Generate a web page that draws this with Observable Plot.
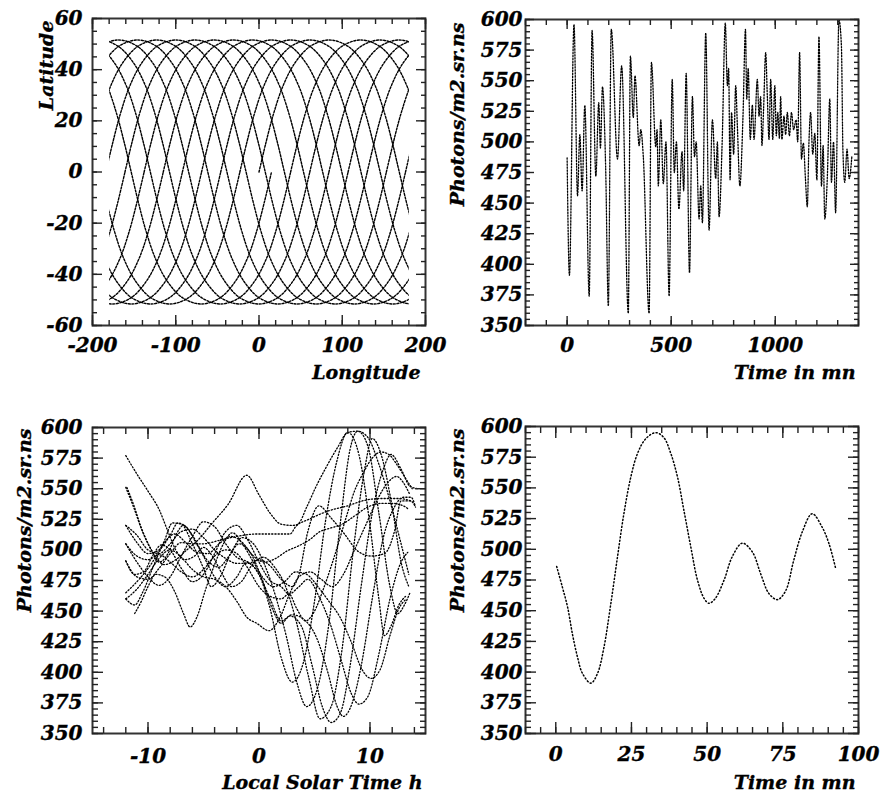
<!DOCTYPE html>
<html><head><meta charset="utf-8">
<script src="https://cdn.jsdelivr.net/npm/d3@7"></script>
<script src="https://cdn.jsdelivr.net/npm/@observablehq/plot@0.6"></script>
<style>
body{margin:0;background:#fff;}
#root{position:relative;width:880px;height:796px;overflow:hidden;background:#fff;}
#root svg{position:absolute;overflow:visible;}
#root svg text{stroke:#000;stroke-width:0.35px;}
</style></head><body><div id="root"></div>
<script>
// ---------------- Panel 1: ground track ----------------
// shape of one orbit's ground track relative to its ascending-node longitude
const trackShapeDLon = [0,8.5,17.8,28.9,43.3,61.9,84.3,106.6,125.2,139.6,150.7,160,168.5,177,186.3,197.4,211.8,230.4,252.8,275.1,293.7,308.1,319.2,328.5,337];
const trackShapeLat  = [0,11.7,23.1,33.7,42.7,49.2,51.6,49.2,42.7,33.7,23.1,11.7,0,-11.7,-23.1,-33.7,-42.7,-49.2,-51.6,-49.2,-42.7,-33.7,-23.1,-11.7,0];
const orbitNodeLon = [0,-23,-46,-69,-92,-115,-138,-161,176,153,130,107,84,61,38];
const p1XLabels = [-200,-100,0,100,200];
const p1YLabels = [-60,-40,-20,0,20,40,60];

// ---------------- Panel 2: long time series (turning points) ----------------
const seriesTime = [0,11,33,50,61,72,85, 106,120,138,152,160,170,185, 198,212,242,262,
  294,304,318,326,346,354,366, 394,405,426,432,438,450,462,475, 490,505,515,525,537,552,
  560,572,588,602,612,620,634,642,650, 666,682,698,714,722,730,745,
  760,770,776,783,790,800,810,818,830,845,857,863,
  870,880,890,898,914,922,930,936,944,954,962,970,978,988,
  998,1005,1012,1020,1026,1032,1042,1050,1058,1068,1078,1088,1100,1108,
  1117,1126,1135,1145,1154,1162,1170,1180,1190,1200,
  1210,1222,1230,1238,1250,1262,1270,1280,1290,1306,1318,1325,1334,1345,1355,1368];
const seriesFlux = [487,391,596,456,506,460,530, 374,591,472,532,495,545,480, 366,592,486,562,
  360,570,520,554,497,510,488, 360,565,496,510,464,518,466,500, 374,551,475,500,445,492,
  460,556,393,537,488,500,437,464,434, 589,428,518,470,500,439,500,
  597,546,560,469,524,490,546,513,464,521,592,535,
  560,502,530,502,551,521,537,497,527,573,537,502,551,502,
  546,505,524,503,537,502,521,506,524,505,524,510,518,500,
  573,486,499,470,447,500,524,490,507,469,
  586,464,497,437,470,535,467,500,442,600,578,494,467,494,470,488];
const p2XLabels = [0,500,1000];
const fluxLabels = [350,375,400,425,450,475,500,525,550,575,600];

// ---------------- Panel 3: flux vs local solar time (one curve per pass) ----------------
const lstCurveA = [[-12,505],[-11,490],[-10,478],[-9,471],[-8,478],[-7,495],[-6,511],[-5,523],[-4,519],[-3,505],[-2,494],[-1,490],[0,480],[1,452],[2,412],[3,392],[4,408],[5,458],[6,524],[7,572],[8,596],[9,578],[10,520],[10.8,460],[11.3,430],[11.9,438],[12.6,455],[13.2,462]];
const lstCurveB = [[-12,460],[-11.2,455],[-10.5,465],[-9.5,487],[-8.5,508],[-7.8,522],[-7,521],[-6,505],[-5,485],[-4.3,470],[-3.5,478],[-2.5,498],[-1.5,510],[-0.5,505],[0.5,488],[1.5,462],[2.5,428],[3.4,392],[4.3,372],[5.3,388],[6.3,440],[7.3,520],[8.2,582],[8.9,597],[9.8,585],[10.8,530],[11.8,470],[12.5,448],[13.1,455],[13.6,465]];
const lstCurveC = [[-12,577],[-11,562],[-10,548],[-9,533],[-8.2,515],[-7.5,500],[-6.7,492],[-5.8,495],[-5,502],[-4.2,495],[-3.3,480],[-2.5,470],[-1.6,474],[-0.6,488],[0.4,494],[1.4,486],[2.4,470],[3.4,440],[4.5,395],[5.5,362],[6.5,372],[7.5,420],[8.5,500],[9.5,565],[10.2,591],[11,578],[12,535],[12.8,490],[13.5,470]];
const lstCurveD = [[-12,520],[-11,506],[-10,497],[-9,500],[-8,512],[-7.3,522],[-6.5,518],[-5.5,503],[-4.5,490],[-3.6,486],[-2.7,495],[-1.8,505],[-0.8,498],[0.2,478],[1.2,452],[2,440],[2.8,446],[3.8,438],[4.8,405],[5.7,372],[6.5,359],[7.3,366],[8.2,405],[9.2,470],[10.2,530],[11.2,566],[11.9,578],[12.8,566],[13.6,552],[14.3,550]];
const lstCurveE = [[-11.9,551],[-11.3,537],[-10.6,518],[-9.7,500],[-9,490],[-8.2,497],[-7.5,512],[-6.8,520],[-6,512],[-5,495],[-4,478],[-3,470],[-2,478],[-1.1,490],[0,480],[1,460],[2,442],[3,447],[4.2,442],[5.2,428],[6.2,400],[7,373],[7.6,364],[8.4,375],[9.2,405],[10.2,460],[11.2,510],[12.2,535],[13,543],[13.7,543],[14.1,535]];
const lstCurveF = [[-12,491],[-11.2,480],[-10.4,482],[-9.6,495],[-8.8,504],[-8,500],[-7,485],[-6,474],[-5,480],[-4,497],[-3,515],[-2,520],[-1,508],[0,490],[1,475],[2,470],[2.7,464],[3.6,470],[4.4,476],[5.4,462],[6.4,440],[7.4,410],[8.3,383],[9,374],[9.8,380],[10.8,415],[11.8,460],[12.8,490],[13.4,498]];
const lstCurveG = [[-11.2,448],[-10.6,458],[-10,470],[-9.3,480],[-8.5,478],[-7.6,466],[-6.8,448],[-6.2,437],[-5.6,445],[-4.8,468],[-4,488],[-3.2,505],[-2.4,514],[-1.5,505],[-0.5,490],[0.3,478],[1.3,470],[2.3,474],[3.3,482],[4.3,480],[5.3,470],[6.3,458],[7.3,445],[8.3,425],[9.3,402],[10.1,395],[10.9,402],[11.8,430],[12.6,452],[13.3,460]];
const lstCurveH = [[-12,551],[-11.3,535],[-10.5,515],[-9.5,497],[-8.5,488],[-7.5,492],[-6.5,500],[-5.5,508],[-4.3,521],[-2.8,537],[-1.1,561],[0,545],[1,530],[2,521],[3,520],[3.5,521],[4.3,535],[5.1,551],[5.9,565],[7.1,584],[8,596],[8.9,597],[9.8,592],[10.8,570],[11.8,540],[12.8,505],[13.5,480]];
const lstCurveI = [[-12,491],[-11,478],[-10,476],[-9,485],[-8,497],[-7,506],[-6,505],[-5,505],[-3.5,508],[-2,511],[-0.2,513],[1,513],[2,513],[2.8,513],[3.3,519],[4.5,525],[6.3,532],[8,536],[9.3,540],[11,542],[12.5,542],[13.7,540],[14.1,535]];
const lstCurveJ = [[-12,465],[-10.8,476],[-9.6,490],[-8.6,505],[-7.6,513],[-6.6,506],[-5.6,498],[-4.6,497],[-3.6,505],[-2.5,511],[-1.5,506],[-0.5,495],[0.5,490],[1.5,493],[2.5,499],[3.5,503],[4.5,508],[5.5,515],[6.5,518],[7.5,521],[8.5,527],[9.8,535],[11,538],[12,538],[13,536],[13.5,533]];
const lstCurveK = [[-12,520],[-11,512],[-10,500],[-9,497],[-8,505],[-7,515],[-6,517],[-5,510],[-4,500],[-3,493],[-2,489],[-1,489],[0,492],[1,487],[2,476],[3,470],[3.6,480],[4.4,515],[5.4,536],[6.5,526],[7.7,513],[8.9,499],[10.1,495],[11.3,497],[12.2,515],[12.8,540],[13.7,540]];
const lstCurveL = [[-12,460],[-11,468],[-10,480],[-9,493],[-8,500],[-7,494],[-6,484],[-5,478],[-4,476],[-3,470],[-2,458],[-1.1,445],[-0.2,440],[0.9,434],[1.9,445],[2.8,465],[3.6,478],[4.6,482],[5.6,476],[6.6,470],[7.6,480],[8.6,500],[9.6,520],[10.6,540],[11.6,555],[12.4,560],[13,555],[13.6,545]];
const lstCurveM = [[-12,505],[-11,495],[-10,492],[-9,496],[-8,490],[-7,482],[-6,478],[-5,484],[-4,495],[-3,500],[-2,497],[-1,485],[0,470],[1,462],[2,460],[2.7,464],[3.4,452],[4.2,442],[5,450],[5.8,468],[6.8,495],[7.8,525],[8.6,548],[9.4,563],[10.2,575],[11,580],[11.7,578],[12.4,570],[13.1,560],[13.8,550]];
const p3XLabels = [-10,0,10];

// ---------------- Panel 4: first orbit ----------------
const orbitTime = [0.3,2.2,3.9,5.5,7.2,8.8,11.6,13.8,15.9,18.2,20.4,22.5,24.8,27,29.7,33,35.7,38,40.2,42.3,44.6,46.8,49,50.6,52.7,55.6,58.3,61.6,64.9,67.7,70.4,73.2,75.9,78.6,81.4,84.7,88,90.2,92.4];
const orbitFlux = [486,469,453,431,412,399,391,399,420,456,494,529,559,578,590,595,591,578,559,532,502,475,460,456,460,475,494,505,498,480,464,459,466,491,514,529,518,505,485];
const p4XLabels = [0,25,50,75,100];

// ---------------- tables built from the arrays ----------------
const trackRows = [];
orbitNodeLon.forEach((node, k) => {
  for (const shift of [-360, 0, 360]) {
    trackShapeDLon.forEach((d, i) => trackRows.push({seg: k + ":" + shift, lon: node + d + shift, lat: trackShapeLat[i]}));
  }
});
const seriesRows = seriesTime.map((t, i) => ({t, v: seriesFlux[i]}));
const lstRows = [];
[lstCurveA,lstCurveB,lstCurveC,lstCurveD,lstCurveE,lstCurveF,lstCurveG,lstCurveH,lstCurveI,lstCurveJ,lstCurveK,lstCurveL,lstCurveM]
  .forEach((c, k) => c.forEach(([x, v]) => lstRows.push({c: k, x, v})));
const orbitRows = orbitTime.map((t, i) => ({t, v: orbitFlux[i]}));

// ---------------- helpers ----------------
const STYLE = {fontFamily: "'DejaVu Serif', serif", fontStyle: "italic", fontWeight: "bold", fontSize: "20px", color: "#000", background: "transparent", overflow: "visible"};
const TICK = {tickFormat: () => "", label: null, stroke: "#222", strokeWidth: 1.4};

function frameMarks(o) {
  const m = [Plot.frame({stroke: "#333", strokeWidth: 2})];
  for (const a of ["bottom", "top"]) {
    m.push(Plot.axisX({anchor: a, ticks: o.xMajor, tickSize: -o.majorLen, ...TICK}));
    m.push(Plot.axisX({anchor: a, ticks: o.xMinor, tickSize: -o.minorLen, ...TICK}));
  }
  for (const a of ["left", "right"]) {
    m.push(Plot.axisY({anchor: a, ticks: o.yMajor, tickSize: -o.majorLen, ...TICK}));
    m.push(Plot.axisY({anchor: a, ticks: o.yMinor, tickSize: -o.minorLen, ...TICK}));
  }
  m.push(Plot.axisX({anchor: "bottom", ticks: o.xLabels, tickSize: 0, tickPadding: o.xPad, tickFormat: d => String(d), label: null, fontSize: 20}));
  m.push(Plot.axisY({anchor: "left", ticks: o.yLabels, tickSize: 0, tickPadding: o.yPad, tickFormat: d => String(d), label: null, fontSize: 20}));
  m.push(Plot.text([o.xTitle], {text: d => d, frameAnchor: "bottom-right", textAnchor: "end", lineAnchor: "bottom", dx: o.xtDx, dy: o.xtDy, fontSize: 19}));
  m.push(Plot.text([o.yTitle], {text: d => d, frameAnchor: "top-left", rotate: -90, textAnchor: "end", lineAnchor: "bottom", dx: o.ytDx, dy: o.ytDy, fontSize: 19}));
  return m;
}
function range(a, b, s) { return d3.range(a, b + s / 2, s); }
const yMajorFlux = range(350, 600, 25), yMinorFlux = range(350, 600, 5);

function place(svg, left, top) {
  svg.style.left = left + "px"; svg.style.top = top + "px";
  document.getElementById("root").appendChild(svg);
}
function clipLines(svg, x0, x1, id) {
  const ns = "http://www.w3.org/2000/svg";
  const sx = svg.scale("x");
  const defs = document.createElementNS(ns, "defs");
  const cp = document.createElementNS(ns, "clipPath");
  cp.setAttribute("id", id);
  const r = document.createElementNS(ns, "rect");
  const a = sx.apply(x0), b = sx.apply(x1);
  r.setAttribute("x", Math.min(a, b)); r.setAttribute("width", Math.abs(b - a));
  r.setAttribute("y", -50); r.setAttribute("height", 500);
  cp.appendChild(r); defs.appendChild(cp); svg.appendChild(defs);
  svg.querySelectorAll('g[aria-label="line"]').forEach(g => g.setAttribute("clip-path", "url(#" + id + ")"));
}

// ---------------- Panel 1 ----------------
const p1 = Plot.plot({
  width: 440, height: 400, marginLeft: 92, marginRight: 15, marginTop: 18, marginBottom: 75,
  style: STYLE,
  x: {domain: [-200, 200]}, y: {domain: [-60, 60]},
  marks: [
    Plot.line(trackRows, {x: "lon", y: "lat", z: "seg", curve: "catmull-rom", stroke: "#000", strokeWidth: 1.4, strokeDasharray: "2,1.6"}),
    ...frameMarks({xMajor: range(-200, 200, 100), xMinor: range(-200, 200, 20), yMajor: range(-60, 60, 20), yMinor: range(-60, 60, 5),
      majorLen: 10, minorLen: 5, xLabels: p1XLabels, yLabels: p1YLabels, xPad: 12, yPad: 10,
      xTitle: "Longitude", yTitle: "Latitude", xtDx: -5, xtDy: 53, ytDx: -40, ytDy: 2})
  ]
});
clipLines(p1, -180, 180, "clipTracks");
place(p1, 0, 0);

// ---------------- Panel 2 ----------------
const p2 = Plot.plot({
  width: 440, height: 400, marginLeft: 85, marginRight: 22, marginTop: 19, marginBottom: 75,
  style: STYLE,
  x: {domain: [-200, 1400]}, y: {domain: [350, 600]},
  marks: [
    Plot.line(seriesRows, {x: "t", y: "v", curve: "monotone-x", stroke: "#000", strokeWidth: 1.3, strokeDasharray: "1.4,1.6"}),
    ...frameMarks({xMajor: [0, 500, 1000], xMinor: range(-200, 1400, 100), yMajor: yMajorFlux, yMinor: yMinorFlux,
      majorLen: 9, minorLen: 5, xLabels: p2XLabels, yLabels: fluxLabels, xPad: 12, yPad: 3,
      xTitle: "Time in mn", yTitle: "Photons/m2.sr.ns", xtDx: -3, xtDy: 53, ytDx: -62, ytDy: 3})
  ]
});
place(p2, 440, 0);

// ---------------- Panel 3 ----------------
const p3 = Plot.plot({
  width: 440, height: 396, marginLeft: 92, marginRight: 15, marginTop: 27, marginBottom: 63,
  style: STYLE,
  x: {domain: [-15, 15]}, y: {domain: [350, 600]},
  marks: [
    Plot.line(lstRows, {x: "x", y: "v", z: "c", curve: "monotone-x", stroke: "#000", strokeWidth: 1.3, strokeDasharray: "1.2,2"}),
    ...frameMarks({xMajor: [-10, 0, 10], xMinor: range(-14, 14, 2), yMajor: yMajorFlux, yMinor: yMinorFlux,
      majorLen: 11, minorLen: 6, xLabels: p3XLabels, yLabels: fluxLabels, xPad: 15, yPad: 10,
      xTitle: "Local Solar Time h", yTitle: "Photons/m2.sr.ns", xtDx: -3, xtDy: 55, ytDx: -62, ytDy: 1})
  ]
});
place(p3, 0, 400);

// ---------------- Panel 4 ----------------
const p4 = Plot.plot({
  width: 440, height: 396, marginLeft: 85, marginRight: 22, marginTop: 26, marginBottom: 63,
  style: STYLE,
  x: {domain: [-10, 100]}, y: {domain: [350, 600]},
  marks: [
    Plot.line(orbitRows, {x: "t", y: "v", curve: "catmull-rom", stroke: "#000", strokeWidth: 1.5, strokeDasharray: "1.1,2.4"}),
    ...frameMarks({xMajor: p4XLabels, xMinor: range(-10, 100, 5), yMajor: yMajorFlux, yMinor: yMinorFlux,
      majorLen: 11, minorLen: 6, xLabels: p4XLabels, yLabels: fluxLabels, xPad: 13, yPad: 3,
      xTitle: "Time in mn", yTitle: "Photons/m2.sr.ns", xtDx: -3, xtDy: 55, ytDx: -62, ytDy: 2})
  ]
});
place(p4, 440, 400);
</script></body></html>
